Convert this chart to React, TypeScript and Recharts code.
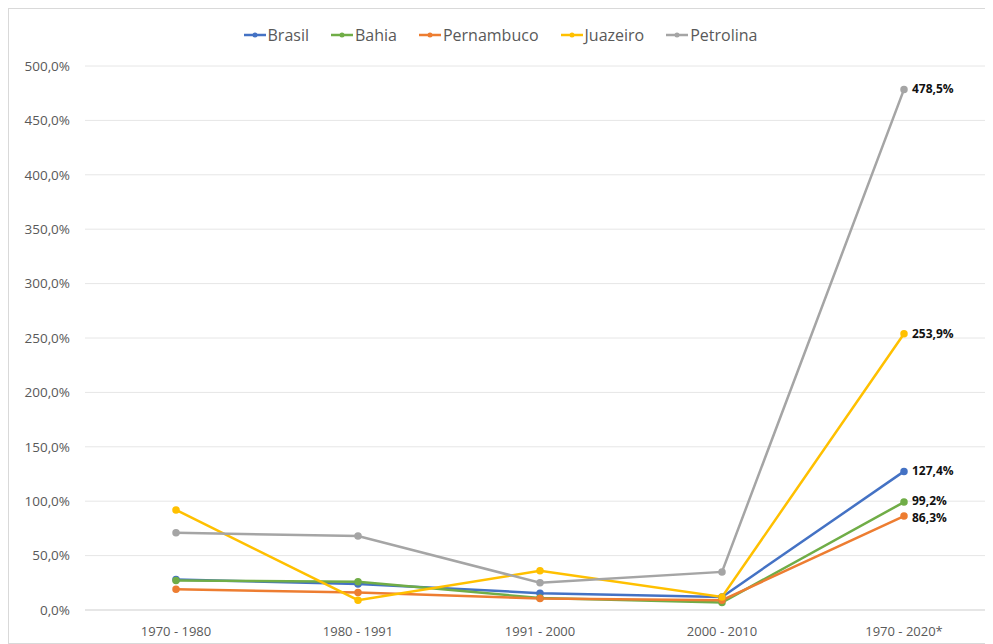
import React from 'react'
import { LineChart, Line, XAxis, YAxis, CartesianGrid, Legend, LabelList } from 'recharts'

const periods = ['1970 - 1980', '1980 - 1991', '1991 - 2000', '2000 - 2010', '1970 - 2020*']
const brasil = [28, 24, 15.5, 12, 127.4]
const bahia = [27, 26, 11, 7, 99.2]
const pernambuco = [19, 16, 10.5, 9, 86.3]
const juazeiro = [92, 9, 36, 12, 253.9]
const petrolina = [71, 68, 25, 35, 478.5]
const yTicks = [0, 50, 100, 150, 200, 250, 300, 350, 400, 450, 500]

// labelShift nudges the two close end labels (Bahia / Pernambuco) apart a bit
const series = [
  { key: 'Brasil', values: brasil, color: '#4472C4', labelShift: 0 },
  { key: 'Bahia', values: bahia, color: '#70AD47', labelShift: -1.5 },
  { key: 'Pernambuco', values: pernambuco, color: '#ED7D31', labelShift: 1.5 },
  { key: 'Juazeiro', values: juazeiro, color: '#FFC000', labelShift: 0 },
  { key: 'Petrolina', values: petrolina, color: '#A5A5A5', labelShift: 0 },
]

const data = periods.map((p, i) => {
  const row: Record<string, string | number> = { period: p }
  series.forEach((s) => { row[s.key] = s.values[i] })
  return row
})

const fmt = (v: number) => v.toFixed(1).replace('.', ',') + '%'
const font = '"Open Sans", "Liberation Sans", sans-serif'

const makeEndLabel = (shift: number) => (props: any) => {
  const { x, y, value, index } = props
  if (index !== periods.length - 1) return null
  return (
    <text x={x + 8} y={y + shift} dy={4} fontSize={12} fontWeight={700} fill="#111" fontFamily={font}>
      {fmt(value)}
    </text>
  )
}

const LegendContent = () => (
  <div style={{ display: 'flex', justifyContent: 'center', gap: 22, fontFamily: font, fontSize: 16, color: '#595959' }}>
    {series.map((s) => (
      <span key={s.key} style={{ display: 'flex', alignItems: 'center' }}>
        <svg width={22} height={10} style={{ marginRight: 2 }}>
          <line x1={0} y1={5} x2={22} y2={5} stroke={s.color} strokeWidth={2.5} />
          <circle cx={11} cy={5} r={2.5} fill={s.color} />
        </svg>
        {s.key}
      </span>
    ))}
  </div>
)

export default function App() {
  return (
    <div style={{ width: 985, height: 636, border: '1px solid #d9d9d9', boxSizing: 'border-box', background: '#fff' }}>
      <LineChart width={983} height={634} data={data} margin={{ top: 57, right: 2, left: 0, bottom: 4 }}>
        <CartesianGrid vertical={false} stroke="#e6e6e6" />
        <XAxis
          dataKey="period"
          axisLine={{ stroke: '#d9d9d9' }}
          tickLine={false}
          tick={{ fontSize: 13, fill: '#595959', fontFamily: font }}
          height={29}
          tickMargin={11}
          padding={{ left: 91, right: 86 }}
        />
        <YAxis
          domain={[0, 500]}
          ticks={yTicks}
          tickFormatter={fmt}
          axisLine={false}
          tickLine={false}
          width={76}
          tickMargin={9}
          tick={{ fontSize: 13.5, fill: '#595959', fontFamily: font }}
        />
        <Legend
          layout="horizontal"
          verticalAlign="middle"
          align="center"
          content={<LegendContent />}
          wrapperStyle={{ top: 15, left: 0, width: 983 }}
        />
        {series.map((s) => (
          <Line
            key={s.key}
            type="linear"
            dataKey={s.key}
            stroke={s.color}
            strokeWidth={2.5}
            dot={{ r: 2.5, fill: s.color, stroke: s.color }}
            isAnimationActive={false}
          >
            <LabelList dataKey={s.key} content={makeEndLabel(s.labelShift)} />
          </Line>
        ))}
      </LineChart>
    </div>
  )
}
